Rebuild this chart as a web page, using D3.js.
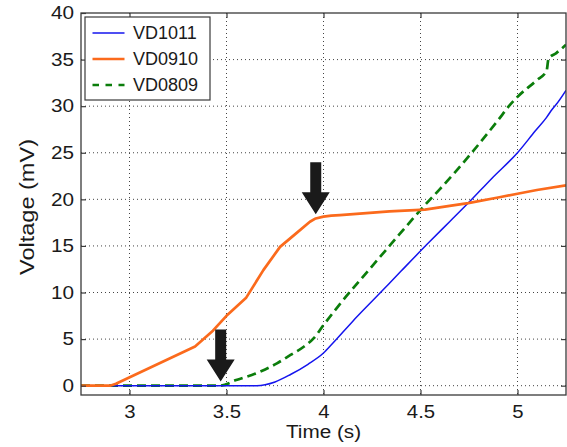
<!DOCTYPE html>
<html>
<head>
<meta charset="utf-8">
<script src="https://cdn.jsdelivr.net/npm/d3@7"></script>
<style>
  body { margin: 0; background: #fff; }
  text { font-family: "Liberation Sans", Arial, Helvetica, sans-serif; fill: #1a1a1a; }
</style>
</head>
<body>
<div id="chart"></div>
<script>
// Voltage vs time chart

// x ticks / y ticks
var xTicks = [3, 3.5, 4, 4.5, 5];
var yTicks = [0, 5, 10, 15, 20, 25, 30, 35, 40];

// VD1011 (blue)
var blueT = [2.75, 3.655, 3.75, 3.83, 3.92, 4.0, 4.05, 4.15, 4.28, 4.4, 4.535, 4.65, 4.746, 4.87, 5.0, 5.09, 5.15, 5.18, 5.2, 5.25];
var blueV = [0, 0, 0.4, 1.2, 2.3, 3.5, 4.6, 6.9, 9.7, 12.3, 15.2, 17.6, 19.6, 22.3, 25.0, 27.3, 28.8, 29.7, 30.2, 31.7];

// VD0910 (orange)
var orangeT = [2.75, 2.9, 2.93, 3.338, 3.43, 3.5, 3.6, 3.69, 3.776, 3.862, 3.93, 3.96, 4.0, 4.04, 4.085, 4.34, 4.523, 4.65, 4.746, 4.9, 5.0, 5.1, 5.25];
var orangeV = [0, 0, 0.2, 4.2, 5.9, 7.5, 9.4, 12.4, 14.9, 16.4, 17.6, 17.95, 18.15, 18.25, 18.3, 18.7, 18.9, 19.3, 19.6, 20.2, 20.6, 21.0, 21.5];

// VD0809 (green, dashed)
var greenT = [2.75, 3.466, 3.55, 3.65, 3.76, 3.83, 3.9, 3.95, 4.0, 4.09, 4.2, 4.34, 4.55, 4.6, 4.764, 4.9, 4.96, 5.0, 5.1, 5.15, 5.16, 5.2, 5.25];
var greenV = [0, 0, 0.6, 1.3, 2.4, 3.3, 4.2, 5.1, 6.5, 8.9, 11.6, 15.0, 20.0, 21.1, 25.0, 28.5, 30.1, 31.0, 32.8, 33.8, 35.1, 35.7, 36.6];

// arrow tips
var arrowT = [3.47, 3.96];
var arrowV = [0.45, 18.4];

var seriesNames = ["VD1011", "VD0910", "VD0809"];

(function () {
  var W = 567, H = 447;
  var margin = { top: 13, right: 1, bottom: 52, left: 81 },
      width = W - margin.left - margin.right,
      height = H - margin.top - margin.bottom;

  var svg = d3.select("#chart").append("svg")
      .attr("width", W).attr("height", H);
  var g = svg.append("g")
      .attr("transform", "translate(" + margin.left + "," + margin.top + ")");

  var x = d3.scaleLinear().domain([2.75, 5.25]).range([0, width]);
  var y = d3.scaleLinear().domain([-1, 40]).range([height, 0]);

  // stretch text a bit wider like the original
  function stretch(sel, k) {
    sel.each(function () {
      var len = this.getComputedTextLength();
      d3.select(this).attr("textLength", len * k).attr("lengthAdjust", "spacingAndGlyphs");
    });
  }

  // dotted grid
  var grid = g.append("g").attr("stroke", "#444").attr("stroke-width", 1).attr("stroke-dasharray", "1,3");
  grid.selectAll("line.gx").data(xTicks).enter().append("line")
      .attr("x1", d => x(d)).attr("x2", d => x(d)).attr("y1", 0).attr("y2", height);
  grid.selectAll("line.gy").data(yTicks.filter(d => d < 40)).enter().append("line")
      .attr("y1", d => y(d)).attr("y2", d => y(d)).attr("x1", 0).attr("x2", width);

  // lines
  g.append("clipPath").attr("id", "clip").append("rect").attr("width", width).attr("height", height);
  var plot = g.append("g").attr("clip-path", "url(#clip)");

  var zip = (a, b) => a.map((t, i) => [t, b[i]]);

  var series = [
    { name: seriesNames[0], data: zip(blueT, blueV), color: "#1414ee", w: 1.5, dash: null, legDash: null, curve: d3.curveMonotoneX },
    { name: seriesNames[1], data: zip(orangeT, orangeV), color: "#fb6a1c", w: 2.7, dash: null, legDash: null, curve: d3.curveLinear },
    { name: seriesNames[2], data: zip(greenT, greenV), color: "#0b7d0b", w: 2.7, dash: "9,5", legDash: "6.5,6.5", curve: d3.curveMonotoneX }
  ];

  [series[2], series[0], series[1]].forEach(function (s) {
    var line = d3.line().curve(s.curve).x(d => x(d[0])).y(d => y(d[1]));
    plot.append("path")
        .datum(s.data)
        .attr("d", line)
        .attr("fill", "none")
        .attr("stroke", s.color)
        .attr("stroke-width", s.w)
        .attr("stroke-linejoin", "round")
        .attr("stroke-dasharray", s.dash);
  });

  // arrows
  var shaftW = 11, headW = 28, headH = 22, total = 52;
  g.selectAll("path.arrow").data(arrowT.map((t, i) => [t, arrowV[i]])).enter().append("path")
      .attr("class", "arrow")
      .attr("fill", "#1a1a1a")
      .attr("d", function (d) {
        var tx = x(d[0]), ty = y(d[1]);
        return "M" + tx + "," + ty +
          "L" + (tx - headW / 2) + "," + (ty - headH) +
          "L" + (tx - shaftW / 2) + "," + (ty - headH) +
          "L" + (tx - shaftW / 2) + "," + (ty - total) +
          "L" + (tx + shaftW / 2) + "," + (ty - total) +
          "L" + (tx + shaftW / 2) + "," + (ty - headH) +
          "L" + (tx + headW / 2) + "," + (ty - headH) + "Z";
      });

  // axes with inward ticks
  var xAxis = d3.axisBottom(x).tickValues(xTicks).tickFormat(d3.format("")).tickSizeInner(-5).tickSizeOuter(0).tickPadding(10.5);
  var yAxis = d3.axisLeft(y).tickValues(yTicks).tickSizeInner(-5).tickSizeOuter(0).tickPadding(7);
  var xTop = d3.axisTop(x).tickValues(xTicks).tickFormat("").tickSizeInner(-5).tickSizeOuter(0);
  var yRight = d3.axisRight(y).tickValues(yTicks.filter(d => d < 40)).tickFormat("").tickSizeInner(-5).tickSizeOuter(0);

  var gx = g.append("g").attr("transform", "translate(0," + height + ")").call(xAxis);
  var gy = g.append("g").call(yAxis);
  g.append("g").call(xTop);
  g.append("g").attr("transform", "translate(" + width + ",0)").call(yRight);

  g.selectAll(".domain").remove();
  g.selectAll(".tick line").attr("stroke", "#3a3a3a").attr("stroke-width", 1.2);
  g.selectAll(".tick text").attr("font-size", 18).attr("font-family", null).attr("fill", "#1a1a1a");
  stretch(gx.selectAll(".tick text"), 1.13);
  stretch(gy.selectAll(".tick text"), 1.15);

  // frame
  g.append("rect").attr("width", width).attr("height", height)
      .attr("fill", "none").attr("stroke", "#3a3a3a").attr("stroke-width", 1.3);

  // axis labels
  var xl = svg.append("text")
      .attr("x", margin.left + width / 2).attr("y", 438)
      .attr("text-anchor", "middle").attr("font-size", 18)
      .text("Time (s)");
  stretch(xl, 1.15);

  var yl = svg.append("text")
      .attr("transform", "translate(33.5,207) rotate(-90)")
      .attr("text-anchor", "middle").attr("font-size", 20)
      .text("Voltage (mV)");
  yl.attr("textLength", 136).attr("lengthAdjust", "spacingAndGlyphs");

  // legend
  var leg = svg.append("g").attr("transform", "translate(85,17)");
  leg.append("rect").attr("width", 125).attr("height", 83)
      .attr("fill", "#fff").attr("stroke", "#3a3a3a").attr("stroke-width", 1.2);
  var rows = leg.selectAll("g.row").data(series).enter().append("g")
      .attr("transform", (d, i) => "translate(0," + (16 + i * 26) + ")");
  rows.append("line")
      .attr("x1", 7.5).attr("x2", 39.5)
      .attr("stroke", d => d.color)
      .attr("stroke-width", d => d.w)
      .attr("stroke-dasharray", d => d.legDash);
  rows.append("text")
      .attr("x", 48).attr("dy", "0.35em")
      .attr("font-size", 18)
      .text(d => d.name);
})();
</script>
</body>
</html>
